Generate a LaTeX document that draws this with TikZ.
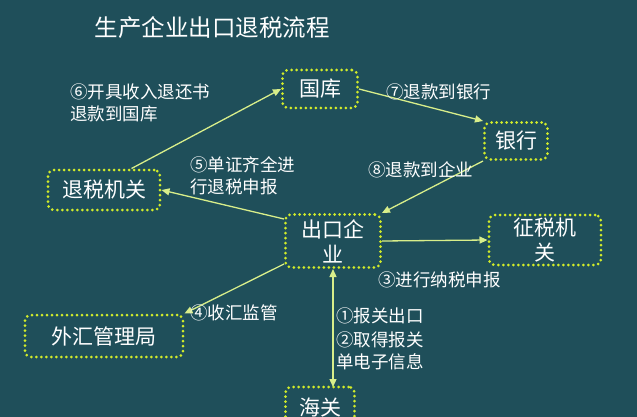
\documentclass[tikz,border=0pt]{standalone}
\usepackage{fontspec}
\setmainfont{Noto Sans CJK SC}
\usetikzlibrary{arrows.meta}
\definecolor{bg}{HTML}{1F4F5A}
\definecolor{bd}{HTML}{D2EC2A}
\definecolor{ar}{HTML}{D8EE8A}
\tikzset{
 box/.style={draw=bd,line width=3pt,dash pattern=on 0pt off 5pt,line cap=round,rounded corners=6pt,text=white,font=\fontsize{21}{25}\selectfont,align=center,inner sep=0pt},
 lbl/.style={text=white,font=\fontsize{17.5}{22}\selectfont,align=left,inner sep=0pt},
 arr/.style={draw=ar,line width=1.3pt,-{Triangle[length=8pt,width=7pt]}}
}
\begin{document}
\begin{tikzpicture}[x=1pt,y=-1pt]
\fill[bg] (0,0) rectangle (637,417);
\useasboundingbox (0,0) rectangle (637,417);
\node[text=white,font=\fontsize{23.5}{26}\selectfont] (title) at (212,28) {生产企业出口退税流程};
\node[box,minimum width=75pt,minimum height=38pt] (gk) at (320,89) {国库};
\node[box,minimum width=63pt,minimum height=37pt] (yh) at (516,141) {银行};
\node[box,minimum width=112pt,minimum height=40pt] (ts) at (104,190) {退税机关};
\node[box,minimum width=95pt,minimum height=53pt] (ck) at (333,241) {出口企\\业};
\node[box,minimum width=112pt,minimum height=50pt] (zs) at (545,240) {征税机\\关};
\node[box,minimum width=158pt,minimum height=42pt] (wh) at (104,336) {外汇管理局};
\node[box,minimum width=69pt,minimum height=40pt] (hg) at (320,407) {海关};
\coordinate (hgt) at (333,387);
\draw[arr] (ts.north east) ++(-30,0) -- (gk.west);
\draw[arr] (gk.east) -- (yh.north west);
\draw[arr] (yh.south west) -- (ck.north east);
\draw[arr] (ck.north west) ++(0,6) -- (ts.east);
\draw[arr] (ck.east) -- (zs.west);
\draw[arr] (ck.south west) ++(0,-5) -- (wh.north east);
\draw[arr,{Triangle[length=8pt,width=7pt]}-{Triangle[length=8pt,width=7pt]}] (ck.south) -- (hgt);
\node[lbl,anchor=west] (l6) at (70,103) {⑥开具收入退还书\\退款到国库};
\node[lbl,anchor=west] (l7) at (386,92) {⑦退款到银行};
\node[lbl,anchor=west] (l8) at (368,170) {⑧退款到企业};
\node[lbl,anchor=west] (l5) at (190,176) {⑤单证齐全进\\行退税申报};
\node[lbl,anchor=west] (l3) at (378,280) {③进行纳税申报};
\node[lbl,anchor=west] (l4) at (190,313) {④收汇监管};
\node[lbl,anchor=west] (l1) at (336,316) {①报关出口};
\node[lbl,anchor=west] (l2) at (336,351) {②取得报关\\单电子信息};
\end{tikzpicture}
\end{document}
